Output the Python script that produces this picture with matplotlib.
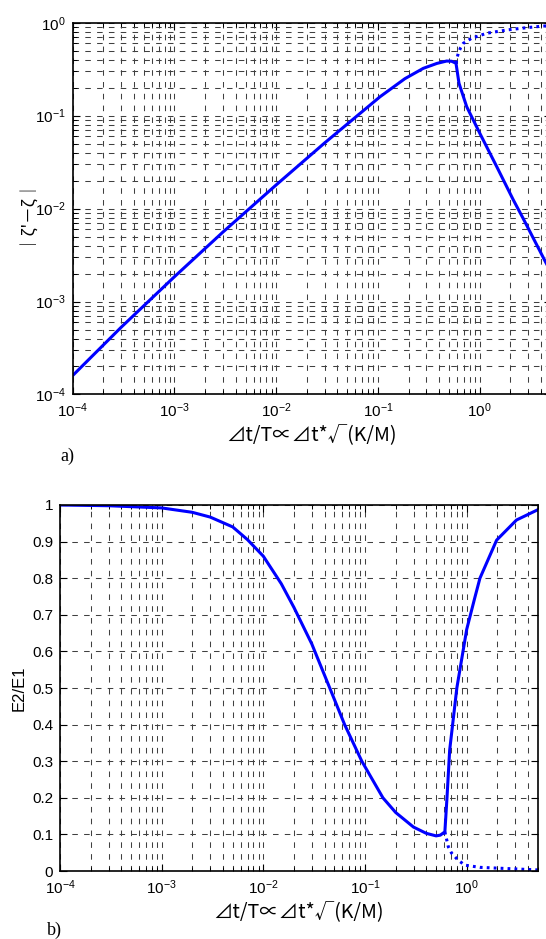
import numpy as np
import matplotlib
matplotlib.use('Agg')
from matplotlib import pyplot as plt
from matplotlib.ticker import LogLocator, MultipleLocator, NullFormatter, FuncFormatter

plt.rcParams['font.family'] = ['Liberation Sans', 'DejaVu Sans']
plt.rcParams['mathtext.default'] = 'regular'
plt.rcParams['lines.scale_dashes'] = False

# a) |zeta' - zeta|, solid branch
err_x = [1e-4, 3e-4, 1e-3, 3e-3, 1e-2, 3e-2, 0.105, 0.184, 0.279, 0.38,
         0.473, 0.53, 0.585, 0.626, 0.745, 1.0, 1.47, 2.14, 2.68, 4.49, 5.0]
err_y = [1.6e-4, 5.3e-4, 1.85e-3, 5.6e-3, 1.8e-2, 5.1e-2, 0.16, 0.25,
         0.323, 0.365, 0.387, 0.385, 0.366, 0.223, 0.125, 0.065, 0.0283,
         0.0124, 0.0078, 0.0026, 0.0021]
# a) dotted branch
err2_x = [0.585, 0.6, 0.616, 0.65, 0.69, 0.83, 1.17, 1.84, 2.9, 4.2, 5.0]
err2_y = [0.366, 0.42, 0.47, 0.54, 0.60, 0.68, 0.77, 0.835, 0.885, 0.92, 0.93]

# b) E2/E1, solid branch
ratio_x = [1e-4, 3e-4, 1e-3, 2e-3, 3e-3, 5e-3, 7e-3, 1e-2, 1.5e-2, 2e-2,
           3e-2, 4.5e-2, 6.3e-2, 9.3e-2, 0.15, 0.2, 0.3, 0.4, 0.5, 0.55,
           0.61, 0.64, 0.68, 0.8, 1.0, 1.2, 1.35, 1.97, 3.09, 5.0]
ratio_y = [1.0, 0.998, 0.992, 0.98, 0.967, 0.94, 0.905, 0.86, 0.785, 0.72,
           0.62, 0.5, 0.4, 0.3, 0.2, 0.16, 0.12, 0.103, 0.096, 0.098,
           0.107, 0.2, 0.33, 0.5, 0.66, 0.746, 0.8, 0.904, 0.959, 0.987]
# b) dotted branch
ratio2_x = [0.61, 0.66, 0.71, 0.82, 0.96, 1.35, 2.85, 5.0]
ratio2_y = [0.107, 0.066, 0.049, 0.030, 0.016, 0.010, 0.006, 0.003]

xlabel = '⊿t/T∝⊿t*√(K/M)'
cjk = ['Noto Sans CJK JP', 'DejaVu Sans']
blue = (0, 0, 1)
grid_style = dict(linestyle=(0, (4.0, 4.5)), color='0.25', linewidth=0.75)


def style_axes(ax):
    '''
    MATLAB-like look: inward ticks on all sides, thick box.
    '''
    for sp in ax.spines.values():
        sp.set_linewidth(1.2)
    ax.tick_params(which='both', direction='in', top=True, right=True,
                   labelsize=11, pad=5)
    ax.tick_params(which='major', length=5, width=0.8)
    ax.tick_params(which='minor', length=3, width=0.7)
    ax.set_axisbelow(True)


fig = plt.figure(figsize=(5.46, 9.39), dpi=100)

# ---- a) ----
ax1 = fig.add_axes([0.1332, 0.5799, 0.8756, 0.3959])
ax1.plot(err_x, err_y, color=blue, lw=2.2, solid_joinstyle='round')
ax1.plot(err2_x, err2_y, color=blue, lw=2.2, linestyle=(0, (2.0, 3.0)))
ax1.set_xscale('log')
ax1.set_yscale('log')
ax1.set_xlim(1e-4, 5)
ax1.set_ylim(1e-4, 1)
ax1.xaxis.set_major_locator(LogLocator(base=10, numticks=10))
ax1.xaxis.set_minor_locator(LogLocator(base=10, subs=np.arange(2, 10), numticks=20))
ax1.yaxis.set_major_locator(LogLocator(base=10, numticks=10))
ax1.yaxis.set_minor_locator(LogLocator(base=10, subs=np.arange(2, 10), numticks=20))
ax1.xaxis.set_minor_formatter(NullFormatter())
ax1.yaxis.set_minor_formatter(NullFormatter())
ax1.grid(True, which='both', **grid_style)
style_axes(ax1)
ax1.set_xlabel(xlabel, family=cjk, fontsize=14, labelpad=3)
ax1.set_ylabel("｜ζ'－ζ｜", family=cjk, fontsize=12, labelpad=3)

# ---- b) ----
ax2 = fig.add_axes([0.1099, 0.0724, 0.8750, 0.3898])
ax2.plot(ratio_x, ratio_y, color=blue, lw=2.2, solid_joinstyle='round')
ax2.plot(ratio2_x, ratio2_y, color=blue, lw=2.2, linestyle=(0, (2.0, 3.0)))
ax2.set_xscale('log')
ax2.set_xlim(1e-4, 5)
ax2.set_ylim(0, 1)
ax2.xaxis.set_major_locator(LogLocator(base=10, numticks=10))
ax2.xaxis.set_minor_locator(LogLocator(base=10, subs=np.arange(2, 10), numticks=20))
ax2.xaxis.set_minor_formatter(NullFormatter())
ax2.yaxis.set_major_locator(MultipleLocator(0.1))
ax2.yaxis.set_major_formatter(FuncFormatter(lambda v, p: f'{v:g}'))
ax2.grid(True, which='major', **grid_style)
ax2.grid(True, which='minor', axis='x', **grid_style)
style_axes(ax2)
ax2.set_xlabel(xlabel, family=cjk, fontsize=14, labelpad=3)
ax2.set_ylabel('E2/E1', fontsize=12, labelpad=4)

fig.text(60 / 546, 1 - 456 / 939, 'a)', family='Liberation Serif',
         fontsize=13, va='center', ha='left')
fig.text(47 / 546, 1 - 930 / 939, 'b)', family='Liberation Serif',
         fontsize=13, va='center', ha='left')

fig.savefig('out.png', dpi=100)
